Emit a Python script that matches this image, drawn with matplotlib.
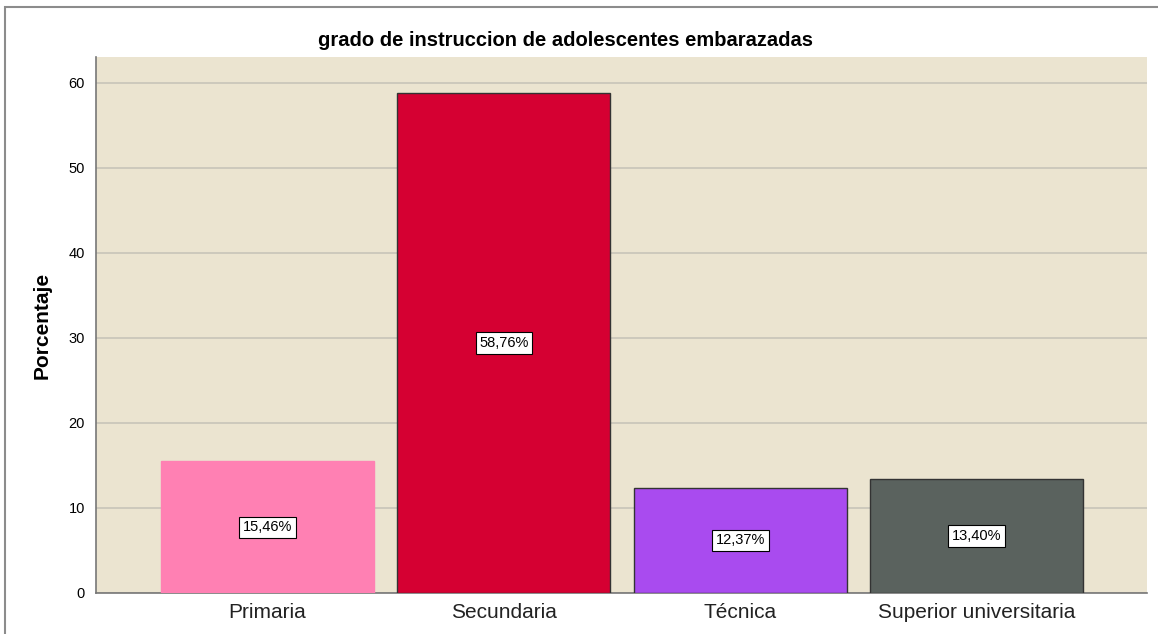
import matplotlib
matplotlib.use("Agg")
import matplotlib.pyplot as plt
from matplotlib.patches import Rectangle

# data
categories = ["Primaria", "Secundaria", "Técnica", "Superior universitaria"]
percentages = [15.46, 58.76, 12.37, 13.40]
bar_colors = ["#FF80B3", "#D50032", "#A94BEF", "#5A625E"]
edge_colors = ["#FF80B3", "#333333", "#333333", "#333333"]
yticks = [0, 10, 20, 30, 40, 50, 60]

plt.rcParams["font.family"] = ["Liberation Sans", "DejaVu Sans"]

W, H = 1158, 634
fig = plt.figure(figsize=(W / 100, H / 100), dpi=100)

# outer frame (runs off the right/bottom edge of the picture)
fig.patches.append(Rectangle((5 / W, -0.1), 1.2, 1 - 7 / H + 0.1,
                             transform=fig.transFigure, fill=False,
                             edgecolor="#8C8C8C", linewidth=1.5))

ax = fig.add_axes([96 / W, 1 - 593 / H, (1147 - 96) / W, (593 - 57) / H])
ax.set_facecolor("#EBE4D0")

x = list(range(len(categories)))
ax.bar(x, percentages, width=0.9, color=bar_colors, edgecolor=edge_colors,
       linewidth=1.0, zorder=3)

for xi, v in zip(x, percentages):
    ax.text(xi, v / 2, f"{v:.2f}%".replace(".", ","), ha="center", va="center",
            fontsize=10.5, color="black", zorder=4,
            bbox=dict(boxstyle="square,pad=0.25", facecolor="white",
                      edgecolor="black", linewidth=0.8))

ax.set_xlim(-0.725, 3.72)
ax.set_ylim(0, 63)
ax.set_yticks(yticks)
ax.yaxis.grid(True, color="#C8C4B8", linewidth=1.2, zorder=0)
ax.set_axisbelow(True)
ax.set_xticks(x)
ax.set_xticklabels(categories, fontsize=15, color="#222222")
ax.tick_params(axis="y", length=0, labelsize=10.5, pad=8)
ax.tick_params(axis="x", length=0, pad=7)

for s in ["top", "right"]:
    ax.spines[s].set_visible(False)
for s in ["left", "bottom"]:
    ax.spines[s].set_color("#777777")
    ax.spines[s].set_linewidth(1.2)

ax.set_ylabel("Porcentaje", fontsize=15, fontweight="bold", labelpad=12)

fig.text(565 / W, 1 - 40 / H, "grado de instruccion de adolescentes embarazadas",
         ha="center", va="center", fontsize=14.5, fontweight="bold")

fig.savefig("out.png", dpi=100)
plt.close(fig)
